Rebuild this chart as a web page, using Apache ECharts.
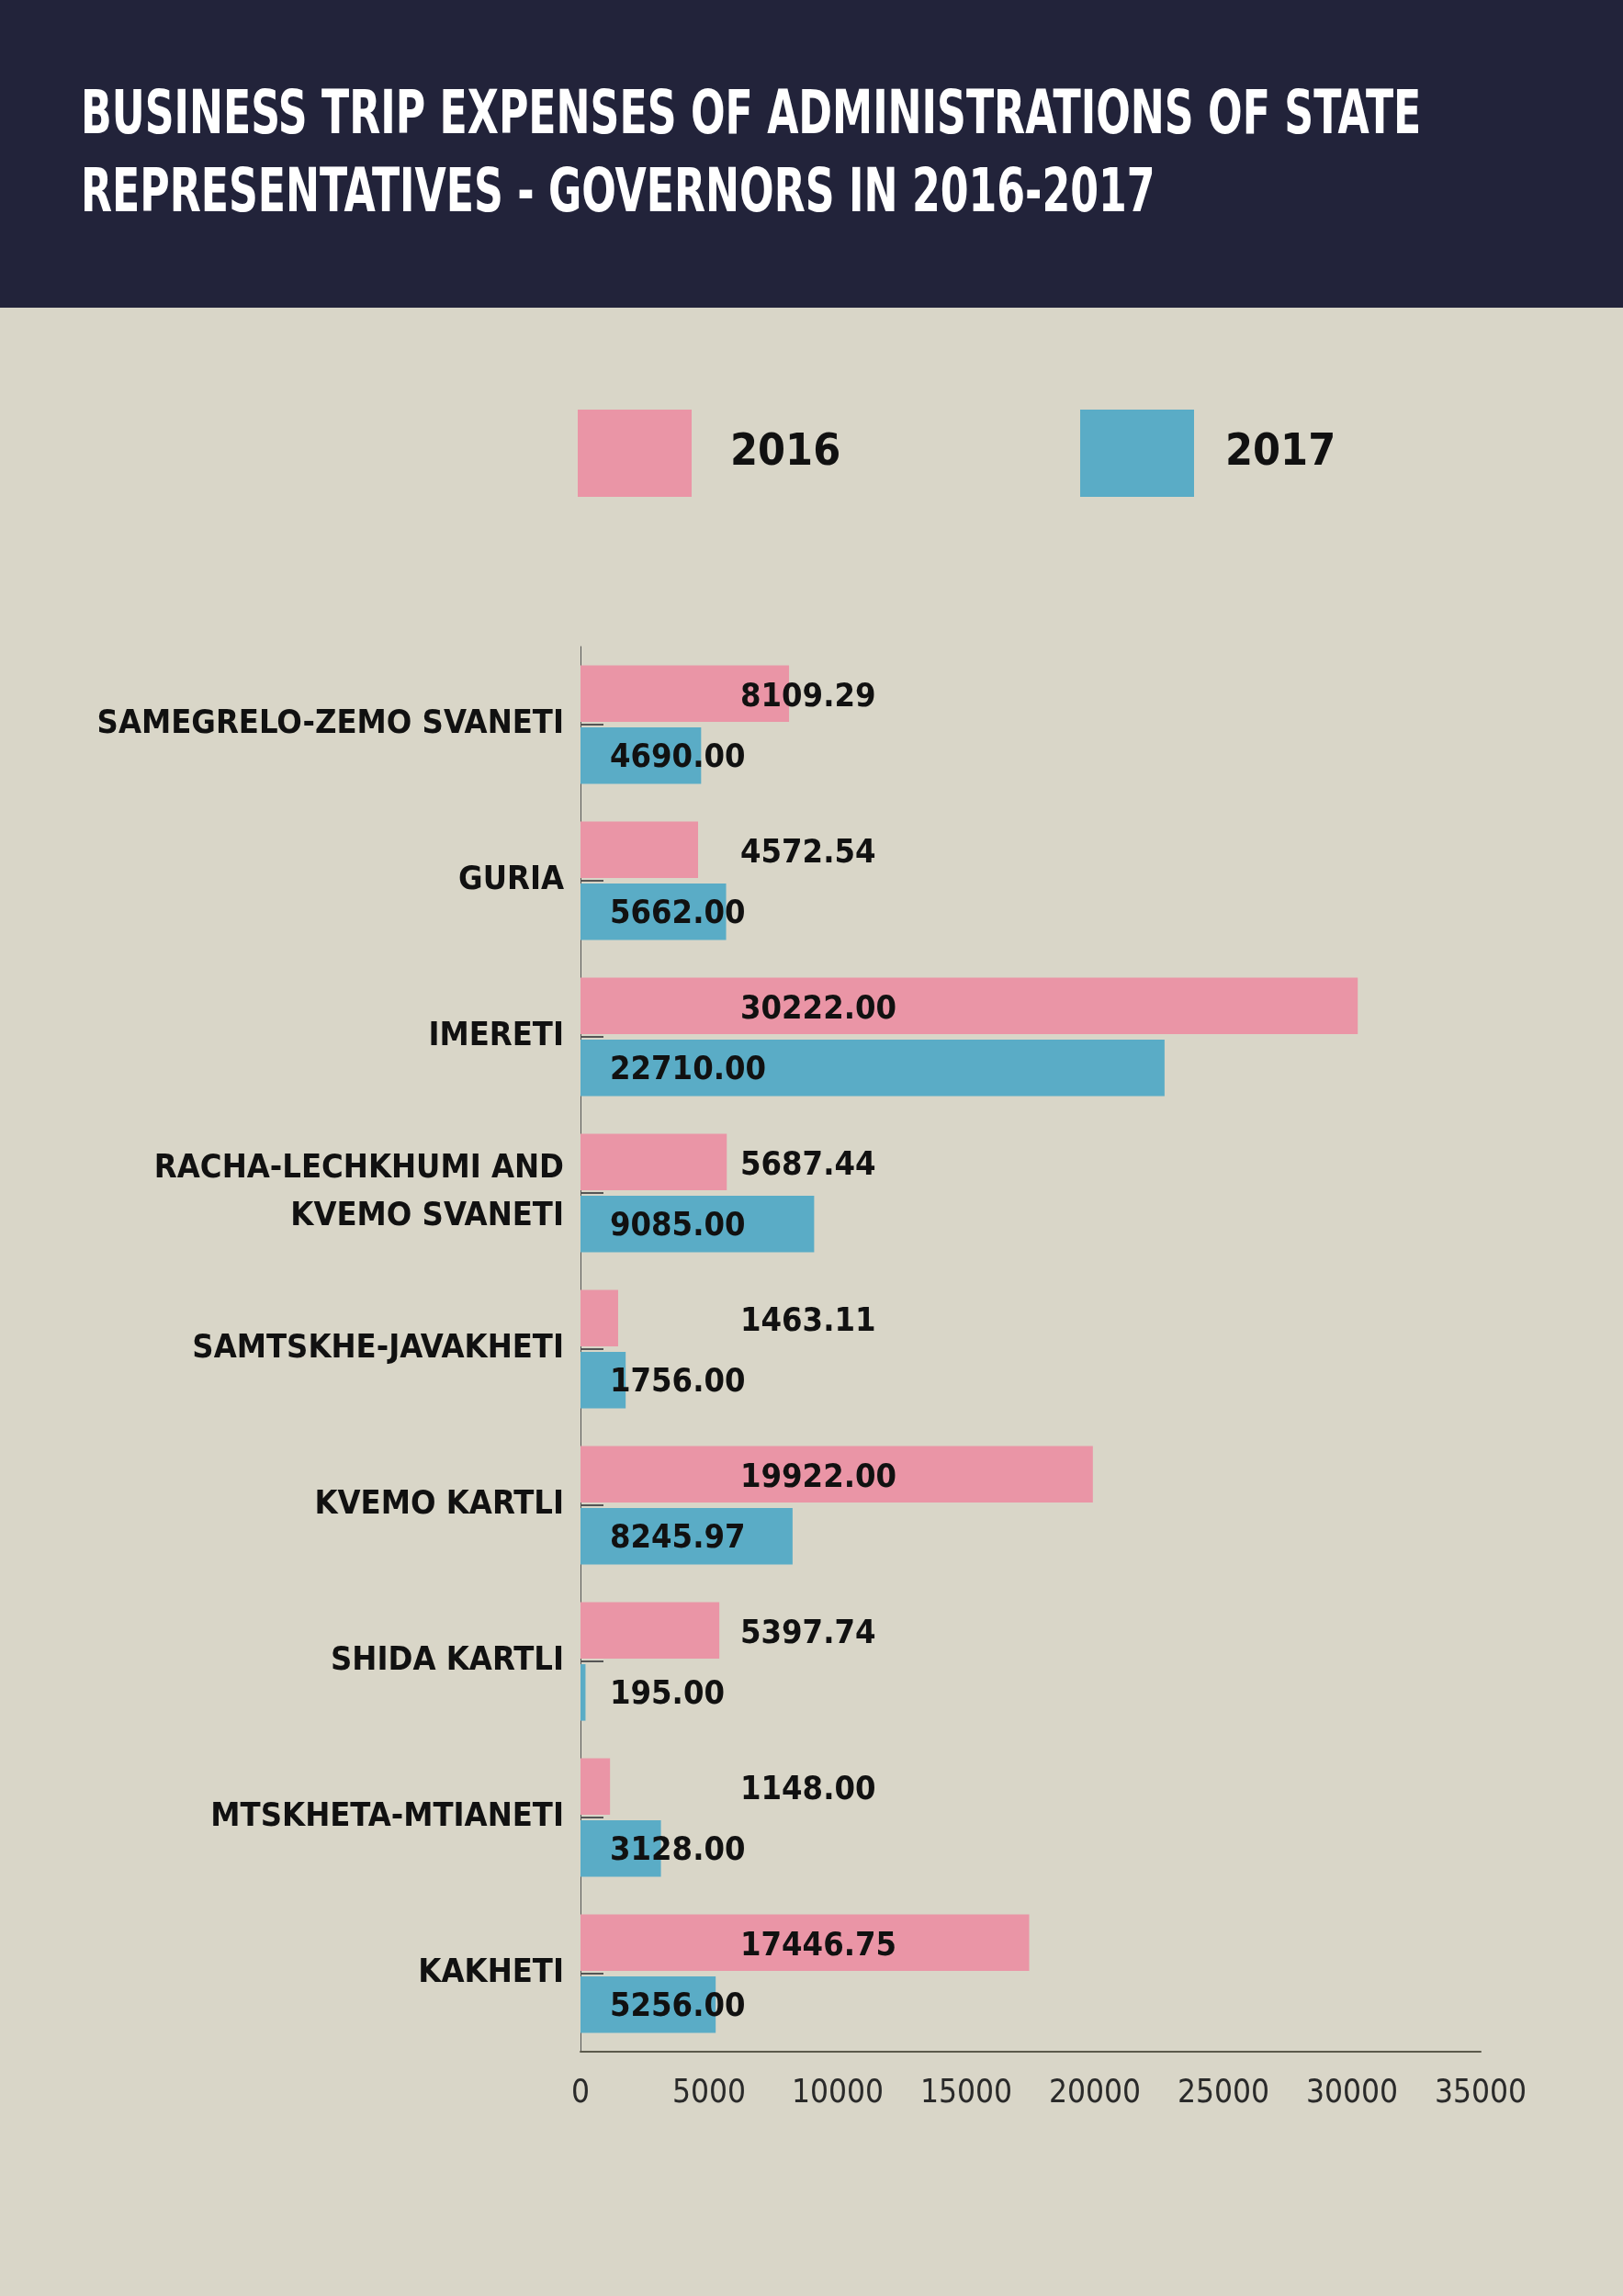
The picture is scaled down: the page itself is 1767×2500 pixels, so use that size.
<!DOCTYPE html>
<html>
<head>
<meta charset="utf-8">
<script src="https://cdn.jsdelivr.net/npm/echarts@6.0.0/dist/echarts.min.js"></script>
<style>
  html, body { margin: 0; padding: 0; background: #d9d6c8; }
  #chart { width: 1767px; height: 2500px; }
</style>
</head>
<body>
<div id="chart"></div>
<script>
var regions = [
    'SAMEGRELO-ZEMO SVANETI',
    'GURIA',
    'IMERETI',
    'RACHA-LECHKHUMI AND\nKVEMO SVANETI',
    'SAMTSKHE-JAVAKHETI',
    'KVEMO KARTLI',
    'SHIDA KARTLI',
    'MTSKHETA-MTIANETI',
    'KAKHETI'
]
var values2016 = [8109.29, 4572.54, 30222.00, 5687.44, 1463.11, 19922.00, 5397.74, 1148.00, 17446.75]
var values2017 = [4690.00, 5662.00, 22710.00, 9085.00, 1756.00, 8245.97, 195.00, 3128.00, 5256.00]
var years = ['2016', '2017']
var titleText = 'BUSINESS TRIP EXPENSES OF ADMINISTRATIONS OF STATE\nREPRESENTATIVES - GOVERNORS IN 2016-2017'

var narrow = "'Liberation Sans Narrow', 'DejaVu Sans Condensed', sans-serif"

var myChart = echarts.init(document.getElementById('chart'))

option = {
    backgroundColor: '#d9d6c8',
    graphic: [{
        // dark header band
        type: 'rect',
        z: -10,
        left: 0,
        top: 0,
        shape: { width: 1767, height: 335 },
        style: { fill: '#22233a' }
    }, {
        // title, squeezed to look like the condensed original
        type: 'text',
        x: 88,
        y: 85,
        scaleX: 0.745,
        style: {
            text: titleText,
            fill: '#ffffff',
            fontFamily: narrow,
            fontWeight: 'bold',
            fontSize: 66,
            lineHeight: 85
        }
    }],
    legend: [{
        data: [years[0]],
        left: 629,
        top: 446,
        padding: 0,
        itemWidth: 124,
        itemHeight: 95,
        icon: 'rect',
        textStyle: { fontFamily: narrow, fontWeight: 'bold', fontSize: 48, color: '#111', padding: [4, 0, 0, 37] }
    }, {
        data: [years[1]],
        left: 1176,
        top: 446,
        padding: 0,
        itemWidth: 124,
        itemHeight: 95,
        icon: 'rect',
        textStyle: { fontFamily: narrow, fontWeight: 'bold', fontSize: 48, color: '#111', padding: [4, 0, 0, 29] }
    }],
    grid: {
        left: 632,
        top: 704,
        width: 980,
        height: 1530
    },
    xAxis: {
        type: 'value',
        min: 0,
        max: 35000,
        interval: 5000,
        splitLine: { show: false },
        axisTick: { show: false },
        axisLine: { show: true, lineStyle: { color: '#5c5a4c', width: 2 } },
        axisLabel: {
            margin: 28,
            fontFamily: narrow,
            fontSize: 35,
            color: '#2a2a2a',
            formatter: function (v) { return String(v) }
        }
    },
    yAxis: {
        type: 'category',
        inverse: true,
        data: regions,
        axisLine: { show: true, lineStyle: { color: '#555', width: 1 } },
        axisTick: {
            show: true,
            inside: true,
            alignWithLabel: true,
            length: 25,
            lineStyle: { color: '#555', width: 2 }
        },
        axisLabel: {
            margin: 18,
            fontFamily: narrow,
            fontWeight: 'bold',
            fontSize: 36,
            lineHeight: 52,
            color: '#111'
        }
    },
    series: [{
        name: years[0],
        type: 'bar',
        data: values2016,
        barCategoryGap: '24%',
        barGap: '10%',
        itemStyle: { color: '#ea95a6' },
        label: {
            show: true,
            position: [174, '58%'],
            verticalAlign: 'middle',
            align: 'left',
            fontFamily: narrow,
            fontWeight: 'bold',
            fontSize: 36,
            color: '#111',
            formatter: function (p) { return p.value.toFixed(2) }
        }
    }, {
        name: years[1],
        type: 'bar',
        data: values2017,
        barCategoryGap: '24%',
        barGap: '10%',
        itemStyle: { color: '#5aacc6' },
        label: {
            show: true,
            position: [32, '55%'],
            verticalAlign: 'middle',
            align: 'left',
            fontFamily: narrow,
            fontWeight: 'bold',
            fontSize: 36,
            color: '#111',
            formatter: function (p) { return p.value.toFixed(2) }
        }
    }]
};

myChart.setOption(option);
</script>
</body>
</html>
